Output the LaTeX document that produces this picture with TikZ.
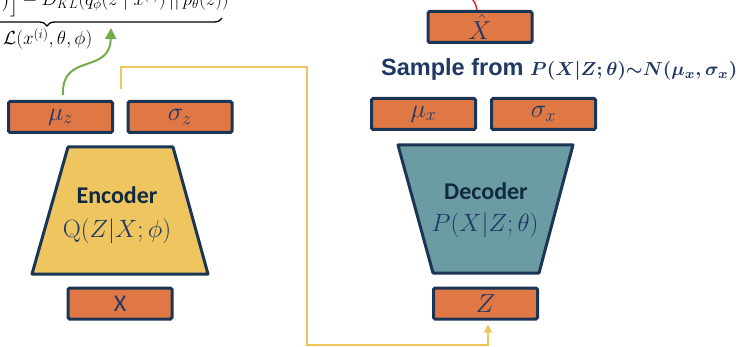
\RequirePackage{fix-cm}
\documentclass[tikz,border=0pt]{standalone}
\usepackage{amsmath}
\usepackage{fontspec}
\newfontfamily\calibri{Carlito}
\newfontfamily\arial{Liberation Sans}
\usetikzlibrary{arrows.meta,decorations.pathreplacing}
\definecolor{navy}{HTML}{1B3556}
\definecolor{txtnavy}{HTML}{203864}
\definecolor{txtdark}{HTML}{102A40}
\definecolor{boxorange}{HTML}{E07845}
\definecolor{encyellow}{HTML}{EEC55F}
\definecolor{decteal}{HTML}{6B9CA3}
\definecolor{yline}{HTML}{F2C55C}
\definecolor{gline}{HTML}{72AC4D}
\definecolor{rline}{HTML}{E8262B}
\begin{document}
\begin{tikzpicture}[x=1pt,y=-1pt,
  box/.style={draw=navy, line width=3pt, fill=boxorange, rounded corners=1.5pt,
    minimum width=104pt, minimum height=31pt, inner sep=0pt, text=txtnavy,
    font=\fontsize{26}{28}\selectfont},
  trap/.style={draw=navy, line width=3pt, line join=round},
  title/.style={anchor=base, inner sep=0pt, text=txtdark, font=\calibri\bfseries\fontsize{24}{26}\selectfont},
  formula/.style={anchor=base, inner sep=0pt, text=txtnavy, font=\fontsize{25}{28}\selectfont},
  elbo/.style={inner sep=0pt, text=black, font=\fontsize{19}{21}\selectfont}]
\useasboundingbox (0,0) rectangle (741,347);

% ELBO formula (cut at the top edge)
\node[elbo, anchor=base east] (elbo) at (229,6)
  {$\big)\Big]-D_{KL}(q_\phi(z\mid x^{(i)})\,||\,p_\theta(z))$};
\coordinate (braceL) at (-128,18);
\coordinate (braceR) at (222,18);
\draw[line width=1.3pt, decorate, decoration={brace, mirror, amplitude=8pt}] (braceL) -- (braceR);
\node[elbo, anchor=base west] (lower) at (3,45) {$\mathcal{L}(x^{(i)},\theta,\phi)$};

% encoder side
\node[box] (muz) at (60.5,117) {$\mu_z$};
\node[box] (sigz) at (180,117) {$\sigma_z$};
\draw[trap, fill=encyellow] (68,147) -- (173,147) -- (208,274) -- (32,274) -- cycle;
\node[title] (enc) at (117,204) {Encoder};
\node[formula] (encf) at (117,238) {$\mathrm{Q}(Z|X;\phi)$};
\node[box, font=\calibri\fontsize{24}{26}\selectfont] (xin) at (120,303.5) {X};

% decoder side
\node[box] (xhat) at (480,27) {$\hat{X}$};
\node[anchor=base west, inner sep=0pt, text=txtnavy, font=\arial\bfseries\fontsize{23.5}{26}\selectfont] (sample) at (381,76)
  {Sample from};
\node[anchor=base west, inner sep=0pt, text=txtnavy] (samplef) at (530,76)
  {\resizebox{207pt}{!}{\boldmath$P(X|Z;\theta){\sim}N(\mu_x,\sigma_x)$}};
\node[box] (mux) at (423.5,114) {$\mu_x$};
\node[box] (sigx) at (543.5,114) {$\sigma_x$};
\draw[trap, fill=decteal] (398,145) -- (573,145) -- (539,273) -- (433,273) -- cycle;
\node[title] (dec) at (486,200) {Decoder};
\node[formula] (decf) at (485,232) {$P(X|Z;\theta)$};
\node[box] (zin) at (485.5,303.5) {$Z$};

% connectors
\coordinate (gstart) at (63,95);
\coordinate (gend) at (111,28);
\draw[gline, line width=2pt, -{Triangle[length=11pt,width=11pt]}]
  (gstart) .. controls (61,52) and (110,75) .. (gend);

\coordinate (ystart) at (121,89);
\coordinate (ycorner) at (307,67);
\draw[yline, line width=2pt, shorten >=4pt, -{Triangle[length=8pt,width=8pt]}]
  (ystart) |- (ycorner) -- (307,345) -| ([xshift=2.5pt]zin.south);

\coordinate (rtop) at (470,-3);
\draw[rline, line width=1.5pt] (rtop) .. controls (475,2) .. ([xshift=-3pt]xhat.north);
\end{tikzpicture}
\end{document}
